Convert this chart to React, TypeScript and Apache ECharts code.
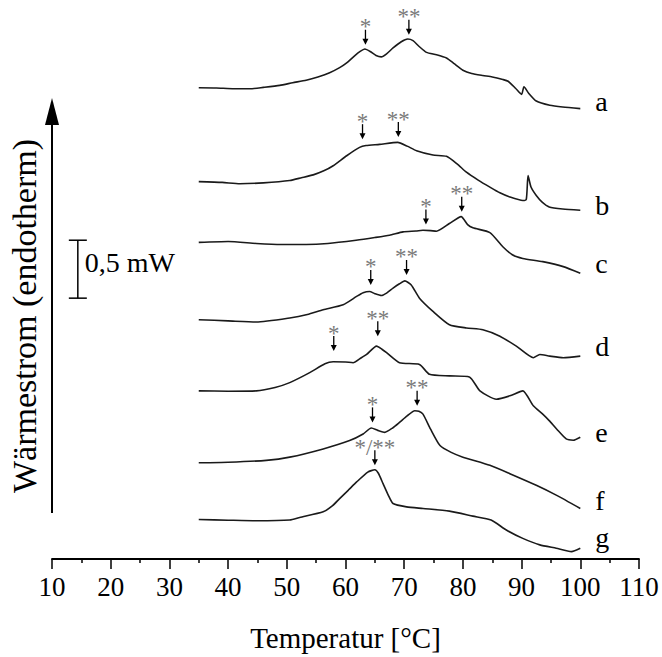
import React, { useEffect, useRef } from 'react';
import * as echarts from 'echarts';

// Temperature [°C] / heat flow [mW] pairs
const curveA: [number, number][] = [[35,4.067],[38,4.065],[41,4.058],[43.7,4.058],[46,4.07],[48.8,4.087],[51,4.11],[53.3,4.132],[55.3,4.16],[57.3,4.196],[59,4.24],[60.2,4.281],[61.5,4.34],[62.5,4.38],[63.3,4.401],[64.2,4.38],[65.2,4.345],[66.1,4.333],[67,4.36],[68.1,4.41],[69.5,4.464],[70.6,4.487],[71.5,4.473],[72.5,4.425],[73.8,4.372],[75.5,4.352],[77.2,4.324],[78.5,4.275],[80,4.218],[81.5,4.189],[83.4,4.172],[85,4.16],[86.8,4.138],[87.7,4.123],[89,4.06],[90,4.009],[90.4,4.075],[91.2,4.02],[92.5,3.952],[94.8,3.915],[97,3.9],[100,3.887]];
const curveB: [number, number][] = [[35,3.257],[39,3.25],[42,3.238],[46,3.246],[50.5,3.266],[52.5,3.29],[54.5,3.315],[56.3,3.35],[57.9,3.394],[60.2,3.48],[62.4,3.552],[63.5,3.568],[65.8,3.578],[68.9,3.595],[70.5,3.563],[72.1,3.523],[74.9,3.486],[77.2,3.475],[79,3.41],[80.6,3.338],[82.6,3.27],[84.6,3.209],[86.3,3.16],[88,3.124],[90.2,3.094],[90.8,3.104],[91.1,3.309],[91.6,3.21],[92.5,3.137],[93.5,3.08],[94.7,3.038],[97,3.02],[100,3.009]];
const curveC: [number, number][] = [[35,2.732],[40,2.74],[44.8,2.723],[49,2.714],[53.3,2.714],[57,2.723],[61.8,2.751],[65,2.774],[67.5,2.794],[69.8,2.823],[72,2.83],[73.2,2.837],[74.5,2.834],[75.5,2.829],[77.7,2.895],[79.7,2.955],[80.8,2.886],[81.7,2.858],[84.6,2.817],[86.8,2.695],[88.5,2.623],[90.2,2.594],[93.6,2.566],[97.1,2.523],[100,2.466]];
const curveD: [number, number][] = [[35,2.065],[40,2.055],[44.8,2.045],[50.5,2.08],[53.5,2.11],[56.2,2.151],[59.6,2.194],[61.9,2.266],[63,2.298],[64.1,2.309],[65,2.29],[66.1,2.274],[67,2.295],[68.1,2.337],[69.2,2.375],[70.1,2.4],[71.2,2.365],[72.6,2.251],[74.9,2.137],[77.7,2.022],[80.6,1.994],[83.4,1.979],[86.3,1.923],[89.1,1.837],[92,1.737],[93.1,1.765],[94.8,1.751],[97.1,1.737],[100,1.751]];
const curveE: [number, number][] = [[35,1.451],[40,1.448],[44.8,1.451],[48,1.48],[50.5,1.522],[53.9,1.608],[56.5,1.685],[57.9,1.702],[60,1.7],[61.3,1.694],[62.5,1.73],[63.6,1.765],[65.3,1.837],[66.2,1.81],[67,1.78],[69.2,1.694],[72.6,1.679],[74.3,1.594],[77.7,1.58],[81.1,1.571],[82.9,1.451],[85.7,1.379],[88,1.408],[90.2,1.451],[92,1.322],[93.6,1.25],[94.7,1.194],[96,1.12],[97.6,1.036],[98.8,1.025],[100,1.051]];
const curveF: [number, number][] = [[35,0.83],[40,0.835],[46.5,0.851],[50.5,0.879],[56.2,0.95],[60.7,1.022],[63,1.079],[64.4,1.13],[65.5,1.11],[66.7,1.093],[68,1.13],[69.2,1.179],[70.5,1.235],[71.8,1.28],[72.5,1.275],[73.2,1.25],[74.5,1.12],[76.1,0.979],[78,0.92],[80,0.879],[84.6,0.808],[88,0.736],[92.5,0.636],[95.9,0.551],[100,0.436]];
const curveG: [number, number][] = [[35,0.341],[40,0.335],[44.8,0.33],[50.5,0.336],[52.2,0.358],[56.2,0.407],[57.8,0.46],[59,0.521],[60.5,0.595],[61.9,0.665],[63.8,0.75],[65,0.77],[65.6,0.74],[66.4,0.65],[67.3,0.55],[68.1,0.479],[70.4,0.45],[73.2,0.436],[77.7,0.413],[81.7,0.37],[84.8,0.336],[87.4,0.25],[90.2,0.178],[93.1,0.122],[95.9,0.093],[98.5,0.064],[100,0.093]];

const curveNames = ['a', 'b', 'c', 'd', 'e', 'f', 'g'];
const curves = [curveA, curveB, curveC, curveD, curveE, curveF, curveG];

// Peak markers: temperature, heat flow at arrow tip, text
const markerTemps = [63.4, 70.8, 62.9, 69.0, 73.7, 79.8, 64.3, 70.4, 58.0, 65.5, 64.6, 72.2, 65.0];
const markerTips = [4.438, 4.524, 3.623, 3.641, 2.886, 2.997, 2.365, 2.451, 1.794, 1.923, 1.179, 1.322, 0.808];
const markerTexts = ['*', '**', '*', '**', '*', '**', '*', '**', '*', '**', '*', '**', '*/**'];

// Scale bar: 0,5 mW
const scaleBarTemp = 14.4;
const scaleBarBase = 2.251;
const scaleBarSpan = 0.5;
const scaleBarText = '0,5 mW';

const xTicksMin = 10;
const xTicksMax = 110;
const xTickStep = 10;
const yMax = 4.824;

const FONT = '"Liberation Serif", "Times New Roman", serif';

export default function App() {
  const ref = useRef<HTMLDivElement>(null);
  useEffect(() => {
    if (!ref.current) return;
    const chart = echarts.init(ref.current, undefined, { renderer: 'svg' });
    const labelDy = [-7, -4.4, -9.4, -9.4, -5, -7.5, -11];
    const lineSeries = curves.map((c, i) => ({
      type: 'line',
      name: curveNames[i],
      data: c,
      showSymbol: false,
      symbol: 'none',
      smooth: 0.2,
      lineStyle: { color: '#1a1a1a', width: 1.6 },
      silent: true,
      endLabel: {
        show: true,
        formatter: curveNames[i],
        distance: 15,
        offset: [0, labelDy[i]],
        fontSize: 28,
        fontFamily: FONT,
        color: '#000',
      },
    }));
    chart.setOption({
      animation: false,
      backgroundColor: '#fff',
      grid: { left: 52, right: 23, top: 0, bottom: 94.5 },
      xAxis: {
        type: 'value',
        min: xTicksMin,
        max: xTicksMax,
        interval: xTickStep,
        name: 'Temperatur [°C]',
        nameLocation: 'middle',
        nameGap: 64,
        nameTextStyle: { fontSize: 29, fontFamily: FONT, color: '#000' },
        axisLine: { show: true, onZero: false, lineStyle: { color: '#000', width: 1.8 } },
        axisTick: { show: true, inside: false, length: 10, lineStyle: { color: '#000', width: 1.5 } },
        minorTick: { show: true, splitNumber: 2, length: 4, lineStyle: { color: '#000', width: 1.5 } },
        axisLabel: { fontSize: 27, fontFamily: FONT, color: '#000', margin: 14 },
        splitLine: { show: false },
      },
      yAxis: {
        type: 'value',
        min: 0,
        max: yMax,
        show: false,
      },
      series: [
        ...lineSeries,
        {
          type: 'custom',
          coordinateSystem: 'cartesian2d',
          clip: false,
          silent: true,
          data: markerTemps.map((t, i) => [t, markerTips[i]]),
          encode: { x: 0, y: 1 },
          renderItem: (params: any, api: any) => {
            const p = api.coord([api.value(0), api.value(1)]);
            const x = p[0];
            const y = p[1];
            const top = y - 15;
            return {
              type: 'group',
              children: [
                { type: 'line', shape: { x1: x, y1: top, x2: x, y2: y - 5 }, style: { stroke: '#000', lineWidth: 1.3 } },
                { type: 'polygon', shape: { points: [[x - 3, y - 6], [x + 3, y - 6], [x, y]] }, style: { fill: '#000' } },
                {
                  type: 'text',
                  style: {
                    text: markerTexts[params.dataIndex],
                    x,
                    y: top - 3,
                    align: 'center',
                    verticalAlign: 'middle',
                    textAlign: 'center',
                    textVerticalAlign: 'middle',
                    fontSize: 23,
                    fontFamily: FONT,
                    fill: '#7a7a7a',
                  },
                },
              ],
            };
          },
        },
        {
          type: 'custom',
          coordinateSystem: 'cartesian2d',
          clip: false,
          silent: true,
          data: [[scaleBarTemp, scaleBarBase, scaleBarSpan]],
          encode: { x: 0, y: 1 },
          renderItem: (params: any, api: any) => {
            const p0 = api.coord([api.value(0), api.value(1)]);
            const p1 = api.coord([api.value(0), api.value(1) + api.value(2)]);
            const x = p0[0];
            return {
              type: 'group',
              children: [
                { type: 'line', shape: { x1: x, y1: p0[1], x2: x, y2: p1[1] }, style: { stroke: '#000', lineWidth: 1.5 } },
                { type: 'line', shape: { x1: x - 9, y1: p0[1], x2: x + 9, y2: p0[1] }, style: { stroke: '#000', lineWidth: 1.5 } },
                { type: 'line', shape: { x1: x - 9, y1: p1[1], x2: x + 9, y2: p1[1] }, style: { stroke: '#000', lineWidth: 1.5 } },
                {
                  type: 'text',
                  style: {
                    text: scaleBarText,
                    x: x + 7,
                    y: (p0[1] + p1[1]) / 2 - 7,
                    align: 'left',
                    verticalAlign: 'middle',
                    textAlign: 'left',
                    textVerticalAlign: 'middle',
                    fontSize: 28,
                    fontFamily: FONT,
                    fill: '#000',
                  },
                },
              ],
            };
          },
        },
      ],
      graphic: [
        { type: 'line', shape: { x1: 52, y1: 513, x2: 52, y2: 118 }, style: { stroke: '#000', lineWidth: 2 } },
        { type: 'polygon', shape: { points: [[45, 125], [52, 98], [59, 125]] }, style: { fill: '#000' } },
        {
          type: 'text',
          x: 24,
          y: 316,
          rotation: Math.PI / 2,
          style: {
            text: 'Wärmestrom (endotherm)',
            fontSize: 34,
            fontFamily: FONT,
            fill: '#000',
            align: 'center',
            verticalAlign: 'middle',
          },
        },
      ],
    });
    return () => chart.dispose();
  }, []);
  return <div ref={ref} style={{ position: 'fixed', left: 0, top: 0, width: 662, height: 657 }} />;
}
